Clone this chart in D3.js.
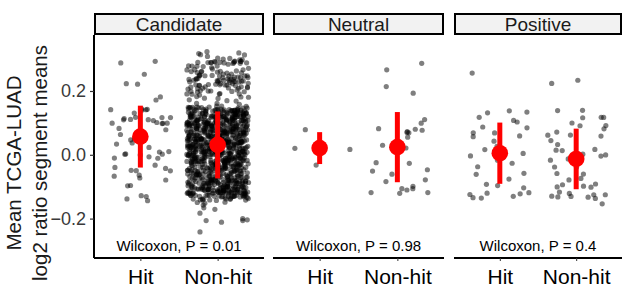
<!DOCTYPE html>
<html>
<head>
<meta charset="utf-8">
<script src="https://cdn.jsdelivr.net/npm/d3@7"></script>
<style>
  body { margin: 0; background: #fff; }
  svg { display: block; font-family: "Liberation Sans", Arial, sans-serif; }
</style>
</head>
<body>
<div id="chart"></div>
<script>
// facets and groups
var facets = ["Candidate", "Neutral", "Positive"];
var groups = ["Hit", "Non-hit"];
var pLabels = ["Wilcoxon, P = 0.01", "Wilcoxon, P = 0.98", "Wilcoxon, P = 0.4"];
var yTicks = [-0.2, 0.0, 0.2];

// mean and sd per facet (Hit, Non-hit), read off the red marks
var means = [[0.057, 0.031], [0.021, 0.024], [0.005, -0.013]];
var sds = [[0.097, 0.105], [0.050, 0.110], [0.096, 0.095]];

// point values
var candHit = [0.29, 0.29, 0.25, 0.22, 0.22, 0.18, 0.17, 0.14, 0.14, 0.14, 0.14, 0.14, 0.14, 0.13,
  0.12, 0.11, 0.12, 0.11, 0.12, 0.11, 0.10, 0.10, 0.10, 0.11, 0.10, 0.11, 0.10, 0.08, 0.08, 0.06,
  0.05, 0.05, 0.04, 0.05, 0.06, 0.03, 0.02, 0.01, 0.00, 0.00, -0.01, 0.00, -0.01, -0.01, 0.00, 0.01,
  -0.03, -0.04, -0.05, -0.05, -0.04, -0.06, -0.05, -0.07, -0.07, -0.08, -0.10, -0.10, -0.14, -0.13,
  -0.13, -0.14];

// candidate non-hit is too dense to read point by point: levels and counts
var candNonHitLevels = [0.32, 0.31, 0.30, 0.29, 0.28, 0.27, 0.26, 0.25, 0.24, 0.23, 0.22, 0.21, 0.20,
  0.19, 0.18, 0.17, 0.16, 0.15, 0.14, 0.13, 0.12, 0.11, 0.10, 0.09, 0.08, 0.07, 0.06, 0.05, 0.04,
  0.03, 0.02, 0.01, 0.00, -0.01, -0.02, -0.03, -0.04, -0.05, -0.06, -0.07, -0.08, -0.09, -0.10,
  -0.11, -0.12, -0.13, -0.14, -0.15, -0.16, -0.17, -0.18, -0.19, -0.20, -0.21, -0.22, -0.23, -0.24];
var candNonHitCounts = [3, 3, 5, 16, 6, 6, 9, 11, 12, 13, 12, 10, 8,
  6, 5, 3, 3, 14, 28, 32, 32, 32, 32, 32, 32, 32, 32, 32, 32,
  32, 32, 32, 32, 30, 30, 28, 26, 24, 24, 24, 26, 28, 30,
  30, 30, 24, 12, 3, 1, 2, 1, 0, 2, 3, 0, 0, 1];

var neutHit = [0.075, 0.02, 0.018, -0.03];
var neutNonHit = [0.29, 0.27, 0.21, 0.19, 0.11, 0.10, 0.085, 0.08, 0.07, 0.075, 0.07, 0.07, 0.055,
  0.035, 0.03, 0.02, -0.025, -0.045, -0.025, -0.06, -0.055, -0.08, -0.085, -0.10, -0.11, -0.105,
  -0.12, -0.12, -0.105, -0.12];

var posHit = [0.26, 0.14, 0.13, 0.12, 0.13, 0.11, 0.09, 0.10, 0.085, 0.07, 0.07, 0.06, 0.06, 0.045,
  0.03, 0.02, 0.005, -0.01, 0.00, -0.015, -0.03, -0.035, -0.055, -0.065, -0.08, -0.09, -0.10, -0.10,
  -0.12, -0.13, -0.125, -0.135, -0.12, -0.125, -0.135];
var posNonHit = [0.23, 0.22, 0.14, 0.135, 0.12, 0.115, 0.12, 0.10, 0.095, 0.085, 0.09, 0.075, 0.065,
  0.06, 0.055, 0.045, 0.035, 0.015, 0.01, 0.015, 0.0, -0.015, 0.0, -0.005, -0.02, -0.035, -0.035,
  -0.06, -0.06, -0.08, -0.075, -0.095, -0.1, -0.1, -0.1, -0.095, -0.115, -0.125, -0.13, -0.125,
  -0.13, -0.125, -0.13, -0.135, -0.14, -0.15];

// expand the level/count table into single values
var candNonHit = [];
candNonHitLevels.forEach(function(v, i) {
  for (var k = 0; k < candNonHitCounts[i]; k++) candNonHit.push(v);
});

var values = [[candHit, candNonHit], [neutHit, neutNonHit], [posHit, posNonHit]];

// layout
var width = 623, height = 289;
var panels = [[94, 264], [273, 444], [454, 622]];
var plotTop = 35, plotBottom = 258;
var stripTop = 13;
var font = '"Liberation Sans", Arial, sans-serif';

// fixed hash in [0,1) used for the display jitter, so every run looks the same
function hash(n) {
  var s = Math.sin(n * 12.9898 + 78.233) * 43758.5453;
  return s - Math.floor(s);
}

var svg = d3.select('#chart').append('svg')
  .attr('width', width)
  .attr('height', height);

svg.append('rect').attr('width', width).attr('height', height).attr('fill', '#fff');

var y = d3.scaleLinear().domain([-0.3235, 0.3755]).range([plotBottom, plotTop]);

// y axis title, two lines
var title = svg.append('text')
  .attr('transform', 'translate(0,163) rotate(-90)')
  .attr('text-anchor', 'middle')
  .style('font-size', '20.5px')
  .attr('fill', '#1a1a1a');
title.append('tspan').attr('x', 0).attr('y', 21).text('Mean TCGA-LUAD');
title.append('tspan').attr('x', 0).attr('y', 47).text('log2 ratio segment means');

// y axis, first panel only
var yAxis = svg.append('g')
  .attr('transform', 'translate(' + panels[0][0] + ',0)')
  .call(d3.axisLeft(y).tickValues(yTicks).tickSize(4).tickPadding(4)
    .tickFormat(d3.format('.1f')));
yAxis.select('.domain').attr('d', 'M0,' + plotTop + 'V' + plotBottom).attr('stroke-width', 2).attr('stroke', '#000');
yAxis.selectAll('.tick line').attr('stroke', '#333').attr('stroke-width', 1.2);
yAxis.selectAll('.tick text').style('font-size', '18px').attr('fill', '#3a3a3a')
  .attr('font-family', font);

facets.forEach(function(f, fi) {
  var x0 = panels[fi][0], x1 = panels[fi][1];
  var x = d3.scalePoint().domain(groups).range([x0, x1]).padding(0.6);
  var step = x.step();
  var g = svg.append('g');

  // strip
  g.append('rect')
    .attr('x', x0 + 1).attr('y', stripTop + 1)
    .attr('width', x1 - x0 - 2).attr('height', plotTop - stripTop - 2)
    .attr('fill', '#f2f2f2').attr('stroke', '#000').attr('stroke-width', 2);
  g.append('text')
    .attr('x', (x0 + x1) / 2).attr('y', 30.5)
    .attr('text-anchor', 'middle')
    .style('font-size', '19px')
    .attr('fill', '#1a1a1a')
    .text(f);

  // jittered points (display jitter only, like geom_jitter)
  groups.forEach(function(grp, gi) {
    var vals = values[fi][gi];
    var seed = fi * 1000 + gi * 500;
    g.append('g').selectAll('circle')
      .data(vals)
      .enter()
      .append('circle')
      .attr('cx', function(d, i) {
        return x(grp) + (hash(seed + i) - 0.5) * 0.8 * step;
      })
      .attr('cy', function(d, i) {
        return y(d + (hash(seed + i + 7777) - 0.5) * 0.008);
      })
      .attr('r', 2.6)
      .attr('fill', '#000')
      .attr('fill-opacity', 0.5);
  });

  // mean +/- sd
  groups.forEach(function(grp, gi) {
    var m = means[fi][gi], s = sds[fi][gi];
    g.append('line')
      .attr('x1', x(grp)).attr('x2', x(grp))
      .attr('y1', y(m - s)).attr('y2', y(m + s))
      .attr('stroke', 'red').attr('stroke-width', 5);
    g.append('circle')
      .attr('cx', x(grp)).attr('cy', y(m))
      .attr('r', 8.3)
      .attr('fill', 'red');
  });

  // p value label
  g.append('text')
    .attr('x', (x0 + x1) / 2).attr('y', 251)
    .attr('text-anchor', 'middle')
    .style('font-size', '15px')
    .attr('fill', '#000')
    .text(pLabels[fi]);

  // x axis
  var xAxis = g.append('g')
    .attr('transform', 'translate(0,' + plotBottom + ')')
    .call(d3.axisBottom(x).tickSize(3).tickPadding(8));
  xAxis.select('.domain').attr('d', 'M' + x0 + ',0H' + x1).attr('stroke', '#000').attr('stroke-width', 2);
  xAxis.selectAll('.tick line').attr('stroke', '#333');
  xAxis.selectAll('.tick text').style('font-size', '21px').attr('fill', '#000')
    .attr('font-family', font);
});
</script>
</body>
</html>
